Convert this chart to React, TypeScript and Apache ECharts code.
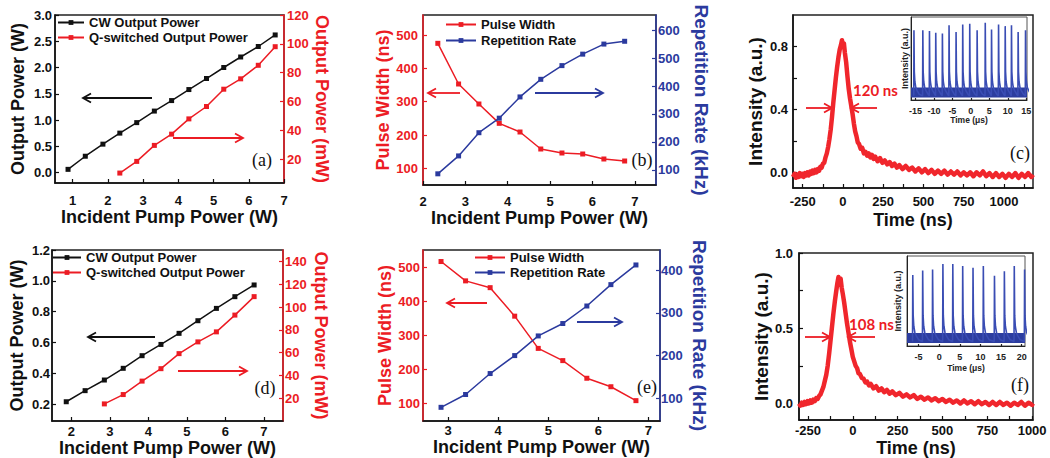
import React, { useEffect, useRef } from 'react';
import * as echarts from 'echarts';

const FONT = "'Liberation Sans', Arial, Helvetica, sans-serif";
const RED = '#ec1c24';
const BLUE = '#2b3a9e';
const INK = '#111111';
const INSET_BLUE = '#3a4db4';

// ---------- (a) ----------
const A_PUMP_CW = [0.87, 1.36, 1.86, 2.34, 2.82, 3.32, 3.81, 4.3, 4.8, 5.29, 5.77, 6.27, 6.75];
const A_CW_POWER = [0.06, 0.31, 0.54, 0.75, 0.95, 1.17, 1.37, 1.58, 1.79, 2.0, 2.2, 2.4, 2.62];
const A_PUMP_Q = [2.34, 2.82, 3.32, 3.81, 4.3, 4.8, 5.29, 5.77, 6.27, 6.75];
const A_Q_POWER = [10.3, 18.4, 29.5, 37.3, 47.9, 56.5, 68.5, 75.7, 85.1, 98];
const A_X_TICKS = [1, 2, 3, 4, 5, 6, 7];
const A_YL_TICKS = [0, 0.5, 1, 1.5, 2, 2.5, 3];
const A_YR_TICKS = [20, 40, 60, 80, 100, 120];

// ---------- (b) ----------
const B_PUMP = [2.35, 2.84, 3.32, 3.8, 4.29, 4.78, 5.28, 5.77, 6.27, 6.76];
const B_WIDTH = [475, 353, 293, 235, 209, 158, 146, 143, 128, 122];
const B_RATE = [86, 150, 233, 285, 361, 424, 473, 514, 550, 560];
const B_X_TICKS = [2, 3, 4, 5, 6, 7];
const B_YL_TICKS = [100, 200, 300, 400, 500];
const B_YR_TICKS = [100, 200, 300, 400, 500, 600];

// ---------- (c) ----------
const C_TIME = [-310, -300, -292, -284, -276, -268, -260, -252, -244, -236, -228, -220, -212, -204, -196, -188, -180, -172, -164, -156, -148, -140, -132, -124, -116, -108, -100, -92, -84, -76, -68, -60, -52, -44, -36, -28, -20, -12, -6, 0, 6, 12, 20, 28, 36, 44, 52, 60, 68, 76, 84, 92, 100, 110, 120, 130, 140, 150, 160, 170, 180, 190, 200, 215, 230, 245, 260, 275, 290, 305, 320, 335, 350, 370, 390, 410, 430, 450, 470, 490, 510, 530, 550, 570, 590, 610, 630, 650, 670, 690, 710, 730, 750, 770, 790, 810, 830, 850, 870, 890, 910, 930, 950, 970, 990, 1010, 1030, 1050, 1070, 1090, 1110, 1130, 1150, 1170, 1180];
const C_INTENSITY = [-0.03, -0.01, -0.035, -0.015, -0.03, -0.005, -0.025, -0.01, -0.03, -0.005, -0.02, 0.0, -0.02, 0.005, -0.01, 0.01, -0.005, 0.015, 0.0, 0.02, 0.01, 0.035, 0.03, 0.055, 0.06, 0.095, 0.12, 0.16, 0.21, 0.27, 0.35, 0.44, 0.52, 0.6, 0.67, 0.73, 0.78, 0.81, 0.84, 0.8, 0.82, 0.76, 0.7, 0.61, 0.53, 0.47, 0.42, 0.37, 0.31, 0.26, 0.23, 0.19, 0.18, 0.15, 0.155, 0.12, 0.13, 0.105, 0.12, 0.095, 0.11, 0.085, 0.1, 0.07, 0.09, 0.06, 0.075, 0.05, 0.065, 0.04, 0.055, 0.03, 0.045, 0.02, 0.04, 0.015, 0.03, 0.005, 0.025, 0.0, 0.02, -0.005, 0.015, -0.01, 0.01, -0.01, 0.01, -0.015, 0.005, -0.015, 0.005, -0.02, 0.0, -0.02, 0.0, -0.025, 0.0, -0.02, 0.005, -0.025, -0.005, -0.03, -0.005, -0.03, -0.01, -0.035, -0.01, -0.03, -0.005, -0.035, -0.01, -0.03, -0.005, -0.03, -0.015];
const C_X_LABELS = [-250, 0, 250, 500, 750, 1000];
const C_X_TICKS = [-250, -125, 0, 125, 250, 375, 500, 625, 750, 875, 1000, 1125];
const C_Y_LABELS = [0, 0.4, 0.8];
const C_Y_TICKS = [0, 0.2, 0.4, 0.6, 0.8];

// inset (c): pulse train
const CI_SPIKE_T = [-15.4, -13.0, -11.2, -9.5, -7.7, -5.9, -4.0, -2.2, -0.3, 1.7, 3.9, 5.6, 7.5, 9.3, 11.0, 12.8, 14.8];
const CI_SPIKE_H = [0.84, 0.84, 0.83, 0.81, 0.8, 0.9, 0.82, 0.91, 0.92, 0.84, 0.93, 0.85, 0.91, 0.89, 0.9, 0.82, 0.84];
const CI_X_LABELS = [-15, -10, -5, 0, 5, 10, 15];

// ---------- (d) ----------
const D_PUMP_CW = [1.87, 2.36, 2.86, 3.35, 3.84, 4.33, 4.8, 5.29, 5.77, 6.25, 6.75];
const D_CW_POWER = [0.215, 0.287, 0.356, 0.432, 0.514, 0.587, 0.659, 0.741, 0.821, 0.897, 0.973];
const D_PUMP_Q = [2.86, 3.35, 3.84, 4.33, 4.8, 5.29, 5.77, 6.25, 6.75];
const D_Q_POWER = [15, 23.2, 35, 45.9, 59.1, 69.4, 78.2, 92.9, 109.1];
const D_X_TICKS = [2, 3, 4, 5, 6, 7];
const D_YL_TICKS = [0.2, 0.4, 0.6, 0.8, 1.0, 1.2];
const D_YR_TICKS = [20, 40, 60, 80, 100, 120, 140];

// ---------- (e) ----------
const E_PUMP = [2.86, 3.35, 3.84, 4.33, 4.8, 5.29, 5.77, 6.25, 6.75];
const E_WIDTH = [518, 461, 441, 357, 262, 226, 174, 149, 108];
const E_RATE = [79, 109, 158, 200, 246, 275, 316, 366, 412];
const E_X_TICKS = [3, 4, 5, 6, 7];
const E_YL_TICKS = [100, 200, 300, 400, 500];
const E_YR_TICKS = [100, 200, 300, 400];

// ---------- (f) ----------
const F_TIME = [-300, -292, -284, -276, -268, -260, -252, -244, -236, -228, -220, -212, -204, -196, -188, -180, -172, -164, -156, -148, -140, -132, -124, -116, -108, -100, -92, -86, -80, -74, -68, -62, -56, -48, -40, -32, -24, -16, -8, 0, 8, 16, 24, 32, 40, 50, 60, 70, 80, 90, 100, 115, 130, 145, 160, 175, 190, 205, 220, 240, 260, 280, 300, 320, 340, 360, 380, 400, 420, 440, 460, 480, 500, 520, 540, 560, 580, 600, 620, 640, 660, 680, 700, 720, 740, 760, 780, 800, 820, 840, 860, 880, 900, 920, 940, 960, 980, 1000, 1005];
const F_INTENSITY = [0.0, -0.015, 0.005, -0.01, 0.01, -0.005, 0.015, 0.0, 0.02, 0.005, 0.025, 0.015, 0.035, 0.03, 0.05, 0.06, 0.085, 0.11, 0.15, 0.19, 0.25, 0.33, 0.42, 0.51, 0.6, 0.68, 0.75, 0.8, 0.84, 0.81, 0.83, 0.77, 0.73, 0.67, 0.6, 0.53, 0.47, 0.41, 0.36, 0.31, 0.28, 0.25, 0.235, 0.2, 0.195, 0.17, 0.165, 0.14, 0.145, 0.12, 0.13, 0.1, 0.115, 0.085, 0.1, 0.075, 0.09, 0.065, 0.08, 0.055, 0.07, 0.045, 0.06, 0.04, 0.055, 0.03, 0.045, 0.025, 0.04, 0.02, 0.035, 0.015, 0.03, 0.01, 0.025, 0.005, 0.02, 0.0, 0.02, 0.0, 0.015, -0.005, 0.015, -0.005, 0.01, -0.01, 0.01, -0.01, 0.01, -0.01, 0.005, -0.015, 0.005, -0.01, 0.01, -0.015, 0.005, -0.01, 0.0];
const F_X_LABELS = [-250, 0, 250, 500, 750, 1000];
const F_X_TICKS = [-250, -125, 0, 125, 250, 375, 500, 625, 750, 875, 1000];
const F_Y_LABELS = [0, 0.5, 1.0];
const F_Y_TICKS = [0, 0.25, 0.5, 0.75, 1.0];

// inset (f): pulse train
const FI_SPIKE_T = [-6.4, -4.0, -1.6, 0.9, 3.3, 5.7, 8.2, 10.7, 13.4, 15.8, 18.2, 20.7];
const FI_SPIKE_H = [0.79, 0.84, 0.85, 0.91, 0.91, 0.89, 0.87, 0.89, 0.78, 0.83, 0.89, 0.85];
const FI_X_LABELS = [-5, 0, 5, 10, 15, 20];

// shape of one Q-switched spike (offset in µs, level; null = peak height)
const SPIKE_DT = [-0.06, 0, 0.1, 0.25, 0.5, 0.9, 1.4];
const SPIKE_LEVEL: (number | null)[] = [0.05, null, 0.34, 0.22, 0.15, 0.11, 0.07];
const INSET_BAND_LEVEL = 0.09;

function zip(xs: number[], ys: number[]) {
  return xs.map((x, i) => [x, ys[i]]);
}

function spikeTrain(times: number[], heights: number[]) {
  const pts: number[][] = [];
  times.forEach((t, i) => {
    SPIKE_DT.forEach((dt, k) => {
      const lv = SPIKE_LEVEL[k];
      pts.push([t + dt, lv === null ? heights[i] : lv]);
    });
  });
  return pts;
}

type AxOpt = {
  gridIndex: number;
  min: number;
  max: number;
  labels?: number[];
  ticks?: number[];
  color?: string;
  name?: string;
  nameGap?: number;
  nameSize?: number;
  nameRotate?: number;
  position?: string;
  labelMargin?: number;
  labelSize?: number;
  tickLen?: number;
  digits?: number;
  lineWidth?: number;
};

function axis(o: AxOpt) {
  const color = o.color ?? INK;
  const ax: any = {
    type: 'value',
    gridIndex: o.gridIndex,
    min: o.min,
    max: o.max,
    name: o.name,
    nameLocation: 'middle',
    nameGap: o.nameGap ?? 20,
    nameTextStyle: { color, fontSize: o.nameSize ?? 18, fontWeight: 'bold', fontFamily: FONT },
    axisLine: { show: true, onZero: false, lineStyle: { color, width: o.lineWidth ?? 1.5 } },
    splitLine: { show: false },
    axisTick: o.labels
      ? { show: true, inside: true, length: o.tickLen ?? 4, customValues: o.ticks ?? o.labels, lineStyle: { color, width: 1.2 } }
      : { show: false },
    axisLabel: o.labels
      ? {
          show: true,
          customValues: o.labels,
          margin: o.labelMargin ?? 4,
          color,
          fontSize: o.labelSize ?? 13,
          fontWeight: 'bold',
          fontFamily: FONT,
          formatter: (v: number) => (o.digits ? v.toFixed(o.digits) : String(Math.round(v))),
        }
      : { show: false },
  };
  if (o.position) ax.position = o.position;
  if (o.nameRotate !== undefined) ax.nameRotate = o.nameRotate;
  return ax;
}

function pointLine(name: string, xi: number, yi: number, xs: number[], ys: number[], color: string) {
  return {
    type: 'line',
    name,
    xAxisIndex: xi,
    yAxisIndex: yi,
    data: zip(xs, ys),
    symbol: 'rect',
    symbolSize: 5,
    showSymbol: true,
    lineStyle: { color, width: 1.5 },
    itemStyle: { color },
    color,
    silent: true,
    z: 3,
  };
}

function arrow(x1: number, y1: number, x2: number, y2: number, color: string) {
  const dir = Math.sign(x2 - x1);
  return {
    type: 'group',
    silent: true,
    children: [
      { type: 'line', shape: { x1, y1, x2, y2 }, style: { stroke: color, lineWidth: 1.8 } },
      {
        type: 'polyline',
        shape: { points: [[x2 - dir * 8, y2 - 4.5], [x2, y2], [x2 - dir * 8, y2 + 4.5]] },
        style: { stroke: color, fill: 'none', lineWidth: 1.8 },
      },
    ],
  };
}

function label(text: string, x: number, y: number, font: string, size: number, weight: string, color: string, align = 'center') {
  return {
    type: 'text',
    x,
    y,
    silent: true,
    z: 10,
    style: { text, fontFamily: font, fontSize: size, fontWeight: weight, fill: color, align, verticalAlign: 'middle' },
  };
}

function legend(names: string[], left: number, top: number, itemWidth: number, gap: number) {
  return {
    data: names,
    left,
    top,
    orient: 'vertical',
    itemWidth,
    itemHeight: 6,
    itemGap: gap,
    selectedMode: false,
    padding: 0,
    textStyle: { color: INK, fontSize: 13, fontWeight: 'bold', fontFamily: FONT },
  };
}

function buildOption() {
  const box = (left: number, top: number, width: number, height: number, inset = false) => ({
    left,
    top,
    width,
    height,
    show: true,
    borderColor: inset ? '#555' : '#222',
    borderWidth: inset ? 1 : 1.5,
    backgroundColor: inset ? '#fff' : 'transparent',
    containLabel: false,
    outerBoundsMode: 'none',
  });

  const grid = [
    box(55, 15, 229, 168), // a
    box(423, 15, 233, 170), // b
    box(793, 15, 240, 173), // c
    box(52, 250, 231, 171), // d
    box(423, 250, 237, 171), // e
    box(799, 253, 234, 167), // f
    box(911, 17, 116, 83, true), // inset c
    box(907, 256, 118, 90, true), // inset f
  ];

  const PUMP = 'Incident Pump Power (W)';

  const xAxis = [
    axis({ gridIndex: 0, min: 0.5, max: 7, labels: A_X_TICKS, name: PUMP, nameGap: 21, labelMargin: 11 }),
    axis({ gridIndex: 1, min: 2, max: 7.5, labels: B_X_TICKS, name: PUMP, nameGap: 19, labelMargin: 10 }),
    axis({ gridIndex: 2, min: -310, max: 1180, labels: C_X_LABELS, ticks: C_X_TICKS, name: 'Time (ns)', nameGap: 23, labelMargin: 7 }),
    axis({ gridIndex: 3, min: 1.5, max: 7.5, labels: D_X_TICKS, name: PUMP, nameGap: 17, labelMargin: 4 }),
    axis({ gridIndex: 4, min: 2.5, max: 7.23, labels: E_X_TICKS, name: PUMP, nameGap: 17, labelMargin: 3 }),
    axis({ gridIndex: 5, min: -300, max: 1005, labels: F_X_LABELS, ticks: F_X_TICKS, name: 'Time (ns)', nameGap: 19, labelMargin: 4 }),
    axis({ gridIndex: 6, min: -16.2, max: 15.2, labels: CI_X_LABELS, name: 'Time (μs)', nameGap: 15, nameSize: 8.5, labelSize: 9, labelMargin: 6, tickLen: 2, lineWidth: 1, color: '#222' }),
    axis({ gridIndex: 7, min: -7.8, max: 20.8, labels: FI_X_LABELS, name: 'Time (μs)', nameGap: 17, nameSize: 8.5, labelSize: 9, labelMargin: 6, tickLen: 2, lineWidth: 1, color: '#222' }),
  ];

  const yAxis = [
    // 0,1: (a)
    axis({ gridIndex: 0, min: -0.2, max: 3.0, labels: A_YL_TICKS, digits: 1, name: 'Output Power (W)', nameGap: 28, labelMargin: 3, position: 'left' }),
    axis({ gridIndex: 0, min: 3.4, max: 120, labels: A_YR_TICKS, color: RED, name: 'Output Power (mW)', nameGap: 29, nameRotate: -90, labelMargin: 3, position: 'right' }),
    // 2,3: (b)
    axis({ gridIndex: 1, min: 50, max: 560, labels: B_YL_TICKS, color: RED, name: 'Pulse Width (ns)', nameGap: 31, labelMargin: 5, position: 'left' }),
    axis({ gridIndex: 1, min: 46, max: 654, labels: B_YR_TICKS, color: BLUE, name: 'Repetition Rate (kHz)', nameGap: 36, nameSize: 19, nameRotate: -90, labelMargin: 2, position: 'right' }),
    // 4: (c)
    axis({ gridIndex: 2, min: -0.1, max: 1.0, labels: C_Y_LABELS, ticks: C_Y_TICKS, digits: 1, name: 'Intensity (a.u.)', nameGap: 28, nameSize: 19, labelMargin: 5, position: 'left' }),
    // 5,6: (d)
    axis({ gridIndex: 3, min: 0.09, max: 1.2, labels: D_YL_TICKS, digits: 1, name: 'Output Power (W)', nameGap: 26, labelMargin: 2, position: 'left' }),
    axis({ gridIndex: 3, min: 0, max: 150, labels: D_YR_TICKS, color: RED, name: 'Output Power (mW)', nameGap: 29, nameRotate: -90, labelMargin: 2, position: 'right' }),
    // 7,8: (e)
    axis({ gridIndex: 4, min: 48, max: 552, labels: E_YL_TICKS, color: RED, name: 'Pulse Width (ns)', nameGap: 28, labelMargin: 3, position: 'left' }),
    axis({ gridIndex: 4, min: 47, max: 447, labels: E_YR_TICKS, color: BLUE, name: 'Repetition Rate (kHz)', nameGap: 30, nameSize: 19, nameRotate: -90, labelMargin: 1, position: 'right' }),
    // 9: (f)
    axis({ gridIndex: 5, min: -0.11, max: 1.0, labels: F_Y_LABELS, ticks: F_Y_TICKS, digits: 1, name: 'Intensity (a.u.)', nameGap: 26, nameSize: 19, labelMargin: 6, position: 'left' }),
    // 10, 11: insets
    axis({ gridIndex: 6, min: 0, max: 1, name: 'Intensity (a.u.)', nameGap: 2, nameSize: 9, lineWidth: 1, color: '#222', position: 'left' }),
    axis({ gridIndex: 7, min: 0, max: 1, name: 'Intensity (a.u.)', nameGap: 5, nameSize: 9, lineWidth: 1, color: '#222', position: 'left' }),
  ];

  const pulse = (xi: number, yi: number, xs: number[], ys: number[]) => ({
    type: 'line',
    xAxisIndex: xi,
    yAxisIndex: yi,
    data: zip(xs, ys),
    symbol: 'none',
    lineStyle: { color: '#f0262c', width: 4.5, join: 'round' },
    color: '#f0262c',
    silent: true,
  });

  const band = (xi: number, yi: number, xmin: number, xmax: number) => ({
    type: 'line',
    xAxisIndex: xi,
    yAxisIndex: yi,
    data: [[xmin, INSET_BAND_LEVEL], [xmax, INSET_BAND_LEVEL]],
    symbol: 'none',
    lineStyle: { color: '#2c3d9f', width: 10 },
    silent: true,
    z: 2,
  });

  const train = (xi: number, yi: number, pts: number[][]) => ({
    type: 'line',
    xAxisIndex: xi,
    yAxisIndex: yi,
    data: pts,
    symbol: 'none',
    lineStyle: { color: INSET_BLUE, width: 1.6 },
    silent: true,
    z: 3,
  });

  const series = [
    pointLine('CW Output Power', 0, 0, A_PUMP_CW, A_CW_POWER, INK),
    pointLine('Q-switched Output Power', 0, 1, A_PUMP_Q, A_Q_POWER, RED),
    pointLine('Pulse Width', 1, 2, B_PUMP, B_WIDTH, RED),
    pointLine('Repetition Rate', 1, 3, B_PUMP, B_RATE, BLUE),
    pulse(2, 4, C_TIME, C_INTENSITY),
    pointLine('CW Output Power', 3, 5, D_PUMP_CW, D_CW_POWER, INK),
    pointLine('Q-switched Output Power', 3, 6, D_PUMP_Q, D_Q_POWER, RED),
    pointLine('Pulse Width', 4, 7, E_PUMP, E_WIDTH, RED),
    pointLine('Repetition Rate', 4, 8, E_PUMP, E_RATE, BLUE),
    pulse(5, 9, F_TIME, F_INTENSITY),
    band(6, 10, -16.2, 15.2),
    train(6, 10, spikeTrain(CI_SPIKE_T, CI_SPIKE_H)),
    band(7, 11, -7.8, 20.8),
    train(7, 11, spikeTrain(FI_SPIKE_T, FI_SPIKE_H)),
  ];

  const SERIF = "'Liberation Serif', 'Times New Roman', serif";
  const graphic = [
    arrow(152, 98, 83, 98, INK),
    arrow(173, 138, 243, 138, RED),
    arrow(460, 93, 428, 93, RED),
    arrow(535, 93, 603, 93, BLUE),
    arrow(806, 108, 832, 108, RED),
    arrow(877, 108, 851, 108, RED),
    arrow(155, 337, 88, 337, INK),
    arrow(178, 371, 247, 371, RED),
    arrow(487, 303, 447, 303, RED),
    arrow(577, 322, 622, 322, BLUE),
    arrow(805, 337, 830, 337, RED),
    arrow(875, 337, 848, 337, RED),
    label('(a)', 262, 160, SERIF, 18, 'normal', INK),
    label('(b)', 642, 160, SERIF, 18, 'normal', INK),
    label('(c)', 1020, 153, SERIF, 18, 'normal', INK),
    label('(d)', 265, 388, SERIF, 18, 'normal', INK),
    label('(e)', 647, 387, SERIF, 18, 'normal', INK),
    label('(f)', 1020, 385, SERIF, 18, 'normal', INK),
    label('120 ns', 853, 90, 'Lato, "Open Sans", sans-serif', 15, 'bold', RED, 'left'),
    label('108 ns', 849, 324, 'Lato, "Open Sans", sans-serif', 15, 'bold', RED, 'left'),
  ];

  return {
    animation: false,
    backgroundColor: '#ffffff',
    grid,
    xAxis,
    yAxis,
    series,
    legend: [
      legend(['CW Output Power', 'Q-switched Output Power'], 57, 16, 26, 2),
      legend(['Pulse Width', 'Repetition Rate'], 445, 18, 30, 3),
      legend(['CW Output Power', 'Q-switched Output Power'], 52, 251, 28, 2),
      legend(['Pulse Width', 'Repetition Rate'], 474, 251, 30, 2),
    ],
    graphic,
  };
}

export default function App() {
  const ref = useRef<HTMLDivElement>(null);
  useEffect(() => {
    if (!ref.current) return;
    const chart = echarts.init(ref.current, null, { renderer: 'svg' });
    chart.setOption(buildOption() as any);
    return () => chart.dispose();
  }, []);
  return (
    <div
      ref={ref}
      style={{ position: 'fixed', left: 0, top: 0, width: 1050, height: 458, background: '#fff' }}
    />
  );
}
